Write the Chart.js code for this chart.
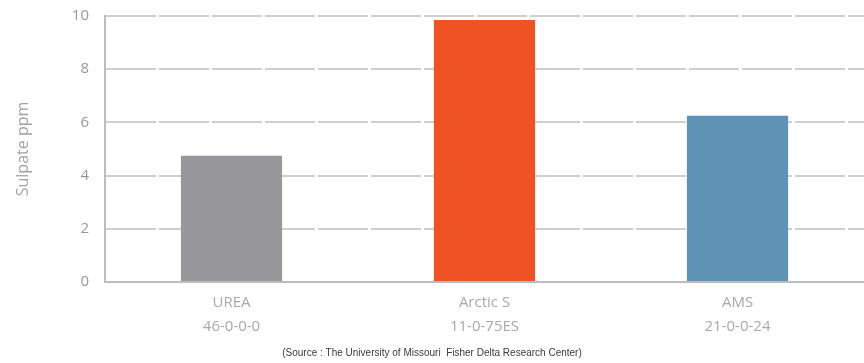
<!DOCTYPE html>
<html>
<head>
<meta charset="utf-8">
<script src="https://cdn.jsdelivr.net/npm/chart.js@4"></script>
<style>
  html, body { margin: 0; padding: 0; background: #fff; }
  #wrap { width: 864px; height: 363px; }
</style>
</head>
<body>
<div id="wrap"><canvas id="myChart" width="864" height="363"></canvas></div>
<script>
const categories = [["UREA", "46-0-0-0"], ["Arctic S", "11-0-75ES"], ["AMS", "21-0-0-24"]];
const sulphateValues = [4.75, 9.85, 6.25];
const barColors = ["#98989c", "#f05323", "#5f93b5"];
const yTicks = [0, 2, 4, 6, 8, 10];

const ctx = document.getElementById("myChart").getContext("2d");

const myChart = new Chart(ctx, {
    type: "bar",
    data: {
        labels: categories,
        datasets: [
            {
                label: "Sulpate ppm",
                data: sulphateValues,
                backgroundColor: barColors,
                borderWidth: 0,
                barPercentage: 0.8,
                categoryPercentage: 0.5
            }
        ]
    },
    options: {
        responsive: false,
        animation: false,
        layout: { padding: { top: 0, right: 0, left: 0, bottom: 4 } },
        scales: {
            x: {
                grid: { display: false, drawTicks: false },
                border: { display: true, color: "#bdbdbd", width: 2 },
                ticks: {
                    color: "#a9a9a9",
                    font: { family: "Open Sans", size: 15, lineHeight: 1.65 },
                    padding: 8
                },
                afterFit: scale => { scale.height = 63; }
            },
            y: {
                min: 0,
                max: 10,
                afterBuildTicks: scale => { scale.ticks = yTicks.map(v => ({ value: v })); },
                grid: {
                    color: "#cfcfcf",
                    lineWidth: 2,
                    drawTicks: false
                },
                border: { display: true, color: "#bdbdbd", width: 2, dash: [50, 3] },
                ticks: {
                    color: "#999999",
                    font: { family: "Open Sans", size: 15 },
                    padding: 16
                },
                title: {
                    display: true,
                    text: "Sulpate ppm",
                    color: "#a3a3a3",
                    font: { family: "Open Sans", size: 16 },
                    padding: { top: 14, bottom: 10 }
                },
                afterFit: scale => {
                    scale.width = 105;
                    scale.paddingTop = 16;
                }
            }
        },
        plugins: {
            legend: { display: false },
            tooltip: { enabled: false },
            title: {
                display: true,
                position: "bottom",
                text: "(Source : The University of Missouri  Fisher Delta Research Center)",
                color: "#3a3a3a",
                font: { family: "Liberation Sans", size: 10, weight: "normal" },
                padding: { top: 2, bottom: 0 }
            }
        }
    }
});
</script>
</body>
</html>
